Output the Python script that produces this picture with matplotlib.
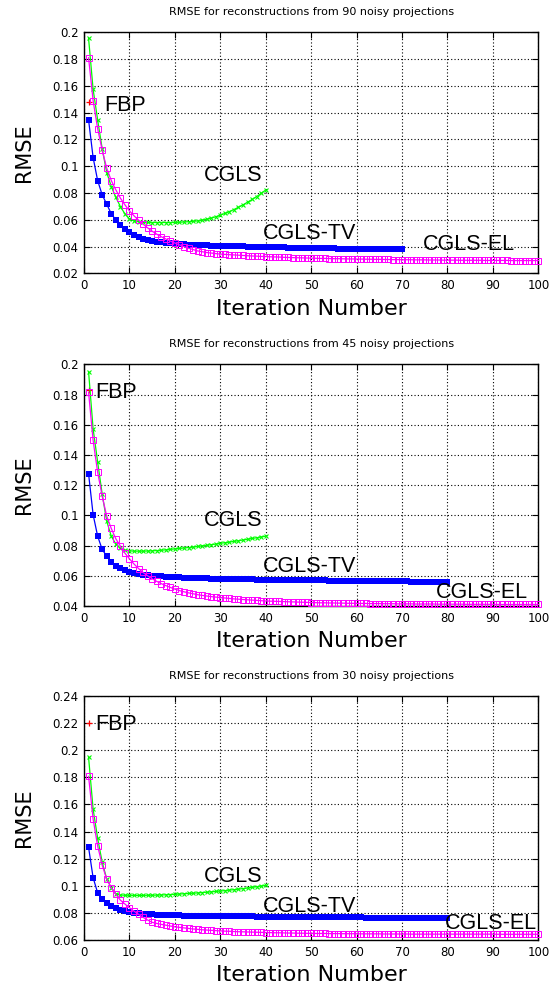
import numpy as np
import matplotlib
matplotlib.use("Agg")
import matplotlib.pyplot as plt

# RMSE curves, one list per method and panel
# (iteration numbers start at 1)

n_proj = [90, 45, 30]

fbp_rmse = [0.148, 0.183, 0.220]

cgls_90 = [0.1955, 0.1575, 0.1346, 0.1130, 0.0953, 0.0848, 0.0769, 0.0699, 0.0645, 0.0607,
           0.0592, 0.0586, 0.0583, 0.0581, 0.0580, 0.0580, 0.0580, 0.0580, 0.0580, 0.0581,
           0.0582, 0.0584, 0.0586, 0.0589, 0.0592, 0.0598, 0.0605, 0.0613, 0.0623, 0.0635,
           0.0648, 0.0662, 0.0677, 0.0694, 0.0712, 0.0732, 0.0752, 0.0774, 0.0798, 0.0823]

cgls_tv_90 = [0.1346, 0.1065, 0.0893, 0.0786, 0.0717, 0.0645, 0.0600, 0.0562, 0.0533, 0.0508,
              0.0488, 0.0472, 0.0460, 0.0450, 0.0442, 0.0436, 0.0431, 0.0427, 0.0424, 0.0421,
              0.0419, 0.0417, 0.0415, 0.0413, 0.0412, 0.0410, 0.0409, 0.0408, 0.0407, 0.0406,
              0.0405, 0.0404, 0.0403, 0.0402, 0.0401, 0.0400, 0.0399, 0.0399, 0.0398, 0.0397,
              0.0396, 0.0395, 0.0395, 0.0394, 0.0393, 0.0392, 0.0392, 0.0391, 0.0390, 0.0390,
              0.0389, 0.0389, 0.0388, 0.0387, 0.0387, 0.0386, 0.0386, 0.0385, 0.0385, 0.0384,
              0.0384, 0.0383, 0.0383, 0.0382, 0.0382, 0.0381, 0.0381, 0.0380, 0.0380, 0.0379]

cgls_el_90 = [0.1810, 0.1490, 0.1280, 0.1120, 0.0985, 0.0893, 0.0824, 0.0762, 0.0712, 0.0667,
              0.0630, 0.0598, 0.0568, 0.0540, 0.0515, 0.0493, 0.0474, 0.0457, 0.0441, 0.0427,
              0.0413, 0.0400, 0.0388, 0.0378, 0.0368, 0.0362, 0.0356, 0.0352, 0.0348, 0.0344,
              0.0342, 0.0340, 0.0338, 0.0336, 0.0334, 0.0332, 0.0330, 0.0329, 0.0327, 0.0326,
              0.0324, 0.0323, 0.0322, 0.0320, 0.0319, 0.0318, 0.0317, 0.0316, 0.0315, 0.0314,
              0.0313, 0.0312, 0.0312, 0.0311, 0.0310, 0.0310, 0.0309, 0.0308, 0.0308, 0.0307,
              0.0307, 0.0306, 0.0306, 0.0305, 0.0305, 0.0304, 0.0304, 0.0303, 0.0303, 0.0302,
              0.0302, 0.0302, 0.0301, 0.0301, 0.0301, 0.0300, 0.0300, 0.0300, 0.0299, 0.0299,
              0.0299, 0.0299, 0.0298, 0.0298, 0.0298, 0.0298, 0.0298, 0.0297, 0.0297, 0.0297,
              0.0297, 0.0297, 0.0297, 0.0296, 0.0296, 0.0296, 0.0296, 0.0296, 0.0296, 0.0296]

cgls_45 = [0.1951, 0.1573, 0.1353, 0.1140, 0.0961, 0.0862, 0.0810, 0.0782, 0.0770, 0.0765,
           0.0763, 0.0763, 0.0763, 0.0764, 0.0765, 0.0767, 0.0769, 0.0772, 0.0775, 0.0778,
           0.0781, 0.0784, 0.0787, 0.0790, 0.0794, 0.0798, 0.0802, 0.0806, 0.0810, 0.0815,
           0.0819, 0.0823, 0.0828, 0.0832, 0.0837, 0.0842, 0.0847, 0.0852, 0.0857, 0.0862]

cgls_tv_45 = [0.1275, 0.1005, 0.0862, 0.0774, 0.0730, 0.0693, 0.0666, 0.0649, 0.0637, 0.0627,
              0.0619, 0.0613, 0.0608, 0.0604, 0.0601, 0.0598, 0.0596, 0.0594, 0.0592, 0.0591,
              0.0589, 0.0588, 0.0587, 0.0586, 0.0585, 0.0584, 0.0583, 0.0582, 0.0581, 0.0580,
              0.0579, 0.0579, 0.0578, 0.0577, 0.0577, 0.0576, 0.0576, 0.0575, 0.0575, 0.0574,
              0.0574, 0.0573, 0.0573, 0.0572, 0.0572, 0.0571, 0.0571, 0.0571, 0.0570, 0.0570,
              0.0569, 0.0569, 0.0569, 0.0568, 0.0568, 0.0567, 0.0567, 0.0567, 0.0566, 0.0566,
              0.0566, 0.0565, 0.0565, 0.0565, 0.0564, 0.0564, 0.0564, 0.0563, 0.0563, 0.0563,
              0.0563, 0.0562, 0.0562, 0.0562, 0.0562, 0.0561, 0.0561, 0.0561, 0.0561, 0.0560]

cgls_el_45 = [0.1815, 0.1496, 0.1285, 0.1126, 0.0994, 0.0913, 0.0845, 0.0796, 0.0750, 0.0712,
              0.0678, 0.0648, 0.0622, 0.0600, 0.0580, 0.0563, 0.0548, 0.0535, 0.0523, 0.0512,
              0.0502, 0.0494, 0.0487, 0.0481, 0.0475, 0.0470, 0.0466, 0.0462, 0.0459, 0.0456,
              0.0453, 0.0450, 0.0447, 0.0445, 0.0443, 0.0441, 0.0439, 0.0437, 0.0435, 0.0433,
              0.0432, 0.0431, 0.0430, 0.0429, 0.0428, 0.0427, 0.0426, 0.0425, 0.0424, 0.0423,
              0.0422, 0.0421, 0.0421, 0.0420, 0.0420, 0.0419, 0.0419, 0.0418, 0.0418, 0.0417,
              0.0417, 0.0417, 0.0416, 0.0416, 0.0416, 0.0415, 0.0415, 0.0415, 0.0414, 0.0414,
              0.0414, 0.0414, 0.0413, 0.0413, 0.0413, 0.0413, 0.0413, 0.0412, 0.0412, 0.0412,
              0.0412, 0.0412, 0.0412, 0.0411, 0.0411, 0.0411, 0.0411, 0.0411, 0.0411, 0.0411,
              0.0410, 0.0410, 0.0410, 0.0410, 0.0410, 0.0410, 0.0410, 0.0410, 0.0410, 0.0410]

cgls_30 = [0.1948, 0.1566, 0.1350, 0.1173, 0.1050, 0.0985, 0.0940, 0.0932, 0.0930, 0.0930,
           0.0929, 0.0929, 0.0929, 0.0930, 0.0930, 0.0931, 0.0932, 0.0933, 0.0935, 0.0937,
           0.0939, 0.0941, 0.0943, 0.0945, 0.0947, 0.0950, 0.0952, 0.0955, 0.0958, 0.0961,
           0.0964, 0.0968, 0.0971, 0.0975, 0.0979, 0.0983, 0.0988, 0.0993, 0.0998, 0.1003]

cgls_tv_30 = [0.1283, 0.1059, 0.0948, 0.0899, 0.0870, 0.0850, 0.0834, 0.0822, 0.0813, 0.0806,
              0.0801, 0.0797, 0.0794, 0.0791, 0.0789, 0.0787, 0.0785, 0.0784, 0.0783, 0.0782,
              0.0781, 0.0780, 0.0780, 0.0779, 0.0779, 0.0778, 0.0778, 0.0777, 0.0777, 0.0776,
              0.0776, 0.0775, 0.0775, 0.0775, 0.0774, 0.0774, 0.0774, 0.0773, 0.0773, 0.0773,
              0.0772, 0.0772, 0.0772, 0.0771, 0.0771, 0.0771, 0.0770, 0.0770, 0.0770, 0.0769,
              0.0769, 0.0769, 0.0768, 0.0768, 0.0768, 0.0767, 0.0767, 0.0767, 0.0766, 0.0766,
              0.0766, 0.0765, 0.0765, 0.0765, 0.0764, 0.0764, 0.0764, 0.0763, 0.0763, 0.0763,
              0.0762, 0.0762, 0.0762, 0.0761, 0.0761, 0.0761, 0.0760, 0.0760, 0.0760, 0.0760]

cgls_el_30 = [0.1807, 0.1492, 0.1293, 0.1153, 0.1047, 0.0985, 0.0936, 0.0894, 0.0865, 0.0838,
              0.0813, 0.0789, 0.0767, 0.0747, 0.0730, 0.0722, 0.0715, 0.0709, 0.0703, 0.0697,
              0.0693, 0.0689, 0.0685, 0.0681, 0.0678, 0.0675, 0.0673, 0.0671, 0.0669, 0.0667,
              0.0665, 0.0664, 0.0662, 0.0661, 0.0660, 0.0659, 0.0658, 0.0657, 0.0656, 0.0655,
              0.0654, 0.0653, 0.0653, 0.0652, 0.0651, 0.0651, 0.0650, 0.0650, 0.0649, 0.0649,
              0.0648, 0.0648, 0.0648, 0.0647, 0.0647, 0.0647, 0.0646, 0.0646, 0.0646, 0.0646,
              0.0645, 0.0645, 0.0645, 0.0645, 0.0645, 0.0644, 0.0644, 0.0644, 0.0644, 0.0644,
              0.0644, 0.0643, 0.0643, 0.0643, 0.0643, 0.0643, 0.0643, 0.0643, 0.0643, 0.0643,
              0.0643, 0.0643, 0.0643, 0.0643, 0.0643, 0.0643, 0.0643, 0.0643, 0.0643, 0.0643,
              0.0642, 0.0642, 0.0642, 0.0642, 0.0642, 0.0642, 0.0642, 0.0642, 0.0642, 0.0642]

cgls_all = [cgls_90, cgls_45, cgls_30]
cgls_tv_all = [cgls_tv_90, cgls_tv_45, cgls_tv_30]
cgls_el_all = [cgls_el_90, cgls_el_45, cgls_el_30]

y_limits = [(0.02, 0.2), (0.04, 0.2), (0.06, 0.24)]

# label anchor points (x, y) for FBP, CGLS, CGLS-TV, CGLS-EL
label_names = ["FBP", "CGLS", "CGLS-TV", "CGLS-EL"]
label_pos = [
    [(4.4, 0.145), (26.3, 0.093), (39.3, 0.0495), (74.5, 0.0418)],
    [(2.4, 0.181), (26.3, 0.0968), (39.3, 0.066), (77.5, 0.0488)],
    [(2.4, 0.2186), (26.3, 0.1067), (39.3, 0.085), (79.5, 0.0722)],
]

# axes boxes in figure fraction [left, bottom, width, height]
boxes = [
    [0.1514, 0.7241, 0.8186, 0.2433],
    [0.1514, 0.3885, 0.8186, 0.2439],
    [0.1514, 0.0515, 0.8186, 0.2462],
]

fig = plt.figure(figsize=(5.55, 9.91), dpi=100)

for i in range(3):
    ax = fig.add_axes(boxes[i])
    it_cgls = np.arange(1, len(cgls_all[i]) + 1)
    it_tv = np.arange(1, len(cgls_tv_all[i]) + 1)
    it_el = np.arange(1, len(cgls_el_all[i]) + 1)

    ax.plot([1], [fbp_rmse[i]], linestyle="none", marker="+", color="#ff0000",
            markersize=5, markeredgewidth=0.9, clip_on=False, zorder=3)
    ax.plot(it_cgls, cgls_all[i], color="#00ff00", linewidth=0.9, marker="x",
            markersize=3.4, markeredgewidth=0.8, clip_on=False, zorder=4)
    ax.plot(it_tv, cgls_tv_all[i], color="#0000ff", linewidth=0.9, marker="s",
            markersize=4.3, markeredgewidth=0.0, clip_on=False, zorder=5)
    ax.plot(it_el, cgls_el_all[i], color="#ff00ff", linewidth=0.9, marker="s",
            markersize=3.8, markerfacecolor="none", markeredgewidth=0.7,
            clip_on=False, zorder=6)

    for name, (lx, ly) in zip(label_names, label_pos[i]):
        ax.text(lx, ly, name, fontsize=15.5, family="Liberation Sans",
                ha="left", va="center", zorder=7)

    ax.set_xlim(0, 100)
    ax.set_ylim(*y_limits[i])
    ax.set_xticks(np.arange(0, 101, 10))
    lo, hi = y_limits[i]
    yt = np.round(np.arange(lo, hi + 1e-9, 0.02), 2)
    ax.set_yticks(yt)
    ax.set_yticklabels([("%g" % v) for v in yt])

    ax.tick_params(direction="in", top=True, right=True, labelsize=8.5,
                   length=4, width=0.8, pad=4)
    ax.grid(True, color="black", linestyle=(0, (1, 2)), linewidth=0.8)
    for s in ax.spines.values():
        s.set_linewidth(1.0)

    ax.set_title("RMSE for reconstructions from %d noisy projections" % n_proj[i],
                 fontsize=8, pad=12.5)
    ax.set_xlabel("Iteration Number", fontsize=16, labelpad=5)
    ax.set_ylabel("RMSE", fontsize=15, labelpad=13)

fig.savefig("out.png", dpi=100)
